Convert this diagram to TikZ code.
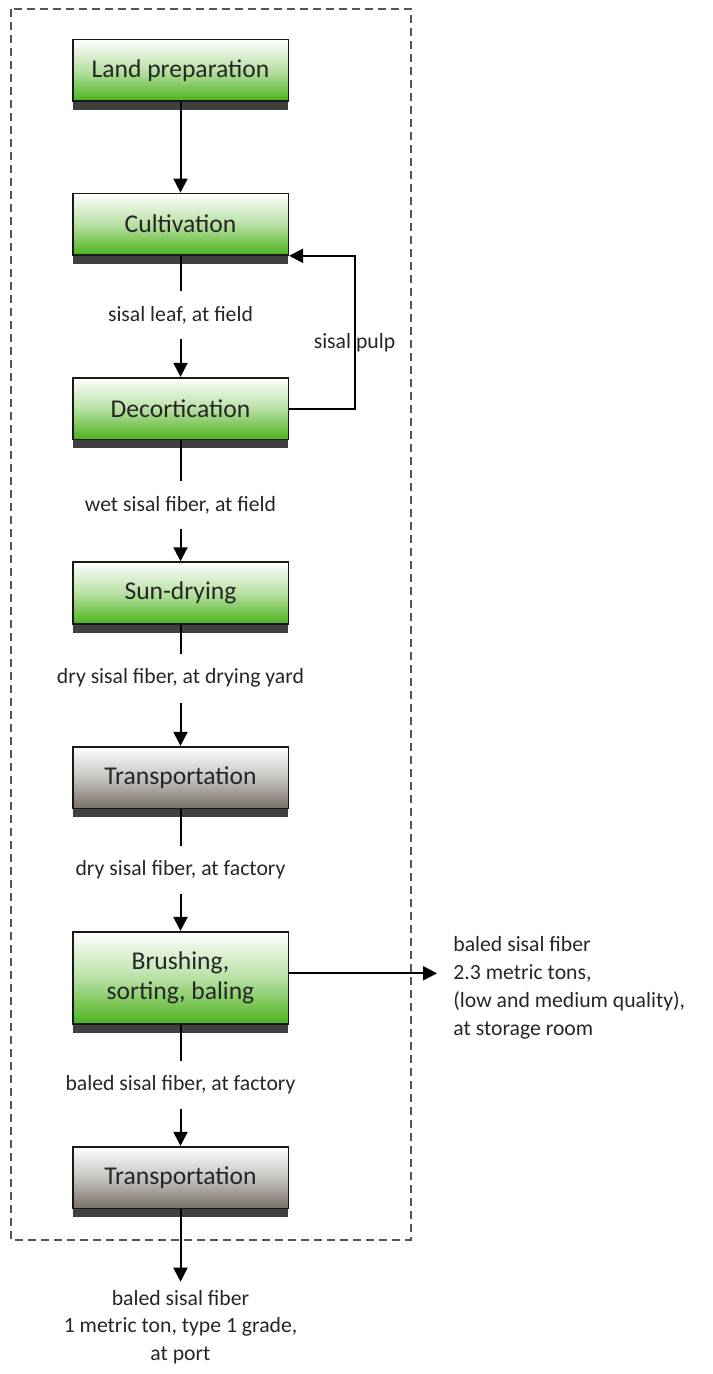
\documentclass[tikz,border=0pt]{standalone}
\usepackage{fontspec}
\setmainfont{Carlito}
\usepackage{xcolor}
\usetikzlibrary{arrows.meta,shadows}

\definecolor{boxgreen}{RGB}{76,178,28}
\definecolor{boxgray}{RGB}{120,112,104}
\definecolor{shadowgray}{RGB}{64,64,64}
\definecolor{framegray}{RGB}{85,85,85}
\definecolor{textgray}{RGB}{38,38,38}

\tikzset{
  stepbox/.style={draw=black!90, line width=0.8pt, minimum width=107.8pt,
    minimum height=30.8pt, align=center, text=textgray, font=\fontsize{12.8}{15}\selectfont,
    drop shadow={shadow xshift=0pt, shadow yshift=-4.5pt, fill=shadowgray, opacity=1}},
  stepgreen/.style={stepbox, top color=white, bottom color=boxgreen, middle color=boxgreen!40!white},
  stepgray/.style={stepbox, top color=white, bottom color=boxgray, middle color=boxgray!42!white},
  flowlabel/.style={font=\fontsize{10.85}{14}\selectfont, text=textgray, minimum height=24pt, inner sep=0pt, align=center},
  flow/.style={-{Triangle[length=7pt,width=7pt]}, line width=1pt},
  frame/.style={draw=framegray, line width=0.85pt, dash pattern=on 4pt off 2.5pt}
}

\begin{document}
\begin{tikzpicture}[x=0.5pt,y=-0.5pt]
  \useasboundingbox (0,0) rectangle (712,1374);
  % Draw system boundary
  \draw[frame] (11,9.3) rectangle (410.7,1240);
  % Draw process steps
  \node[stepgreen] (land) at (180.5,70.3) {Land preparation};
  \node[stepgreen] (cult) at (180.5,224.2) {Cultivation};
  \node[stepgreen] (dec) at (180.5,408.5) {Decortication};
  \node[stepgreen] (sun) at (180.5,592.9) {Sun-drying};
  \node[stepgray] (trans1) at (180.5,777.5) {Transportation};
  \node[stepgreen, minimum height=46.15pt] (brush) at (180.5,977.9) {Brushing,\\sorting, baling};
  \node[stepgray] (trans2) at (180.5,1177.5) {Transportation};
  % Add flow labels
  \node[flowlabel] (leaf) at (180.5,315) {sisal leaf, at field};
  \node[flowlabel] (wet) at (180.5,505) {wet sisal fiber, at field};
  \node[flowlabel] (drysun) at (180.5,678.3) {dry sisal fiber, at drying yard};
  \node[flowlabel] (dryfac) at (180.5,870) {dry sisal fiber, at factory};
  \node[flowlabel] (baledfac) at (180.5,1085) {baled sisal fiber, at factory};
  \node[flowlabel] (pulp) at (354.5,342.7) {sisal pulp};
  \node[flowlabel, align=left, anchor=west, inner xsep=8pt] (store) at (437,987.5)
    {baled sisal fiber\\2.3 metric tons,\\(low and medium quality),\\at storage room};
  \node[flowlabel, anchor=north, inner sep=4pt, font=\fontsize{10.85}{13.75}\selectfont] (port) at (180.5,1281.7)
    {baled sisal fiber\\1 metric ton, type 1 grade,\\at port};
  % Draw flows
  \draw[flow] (land) -- (cult);
  \foreach \a/\l/\b in {cult/leaf/dec, dec/wet/sun, sun/drysun/trans1,
                         trans1/dryfac/brush, brush/baledfac/trans2} {
    \draw[line width=1pt] (\a.south) -- (\l.north);
    \draw[flow] (\l.south) -- (\b.north);
  }
  \draw[flow] (dec.east) -- (dec.east -| pulp) |- (cult.south east);
  \draw[flow] ([yshift=2.3pt]brush.east) -- ([yshift=2.3pt]brush.east -| store.west);
  \draw[flow] (trans2.south) -- (port.north);
\end{tikzpicture}
\end{document}
